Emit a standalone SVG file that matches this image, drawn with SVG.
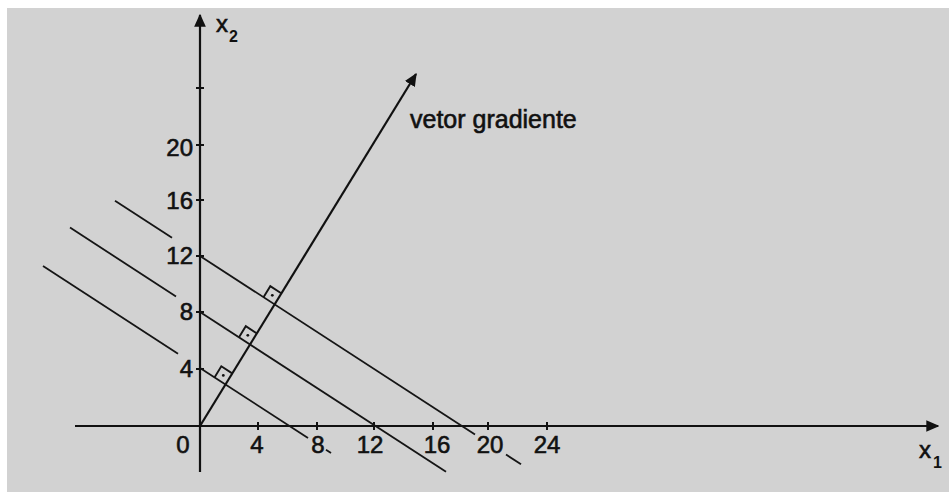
<svg xmlns="http://www.w3.org/2000/svg" width="949" height="492" viewBox="0 0 949 492">
<defs>
<marker id="arrL" viewBox="0 0 10 10" refX="9" refY="5" markerWidth="13" markerHeight="13" markerUnits="userSpaceOnUse" orient="auto">
<path d="M0,0.5 L10,5 L0,9.5 z" fill="#111"/>
</marker>
</defs>
<style>
.ax{stroke:#111;stroke-width:2.2;fill:none}
.lv{stroke:#151515;stroke-width:1.8;fill:none}
.tk{stroke:#111;stroke-width:2;fill:none}
.rt{stroke:#151515;stroke-width:1.9;fill:none}
.n{font-family:"Liberation Sans",Arial,sans-serif;font-size:24px;fill:#111;stroke:#111;stroke-width:0.6}
.l{font-family:"Liberation Sans",Arial,sans-serif;font-size:25px;fill:#111;stroke:#111;stroke-width:0.6}
.s{font-family:"Liberation Sans",Arial,sans-serif;font-size:16px;fill:#111;font-weight:bold}
</style>
<rect x="0" y="0" width="949" height="492" fill="#ffffff"/>
<rect x="7" y="8" width="942" height="484" fill="#d2d2d2"/>
<g id="connectors">
<line id="x1-axis" class="ax" x1="75" y1="426" x2="938" y2="426" marker-end="url(#arrL)"/>
<line id="x2-axis" class="ax" x1="200" y1="472" x2="200" y2="15" marker-end="url(#arrL)"/>
<line id="gradient" class="ax" x1="200" y1="426" x2="416" y2="74" marker-end="url(#arrL)"/>
<g id="ticks">
<line class="tk" x1="258" y1="422" x2="258" y2="430"/>
<line class="tk" x1="317" y1="422" x2="317" y2="430"/>
<line class="tk" x1="374" y1="422" x2="374" y2="430"/>
<line class="tk" x1="433" y1="422" x2="433" y2="430"/>
<line class="tk" x1="488" y1="422" x2="488" y2="430"/>
<line class="tk" x1="547" y1="422" x2="547" y2="430"/>
<line class="tk" x1="196" y1="369" x2="204" y2="369"/>
<line class="tk" x1="196" y1="312" x2="204" y2="312"/>
<line class="tk" x1="196" y1="256" x2="204" y2="256"/>
<line class="tk" x1="196" y1="200" x2="204" y2="200"/>
<line class="tk" x1="196" y1="145" x2="204" y2="145"/>
<line class="tk" x1="196" y1="88" x2="204" y2="88"/>
</g>
<g id="level-12">
<line class="lv" x1="43" y1="266" x2="178" y2="353.7"/>
<line class="lv" x1="200" y1="368" x2="308" y2="438"/>
<line class="lv" x1="326" y1="449.8" x2="331" y2="453"/>
</g>
<g id="level-24">
<line class="lv" x1="70" y1="227.6" x2="176" y2="296.4"/>
<line class="lv" x1="200" y1="312" x2="446" y2="471.7"/>
</g>
<g id="level-36">
<line class="lv" x1="115" y1="200.8" x2="172" y2="237.8"/>
<line class="lv" x1="200" y1="256" x2="475" y2="434.5"/>
<line class="lv" x1="506" y1="454.6" x2="521" y2="464.3"/>
</g>
</g>
<g id="right-angle-1">
<polyline class="rt" points="214.5,377.4 221.3,366.3 232.2,373.4"/>
<circle cx="223.3" cy="375.4" r="1.4" fill="#111"/>
</g>
<g id="right-angle-2">
<polyline class="rt" points="239,337.3 245.8,326.2 256.7,333.3"/>
<circle cx="247.8" cy="335.3" r="1.4" fill="#111"/>
</g>
<g id="right-angle-3">
<polyline class="rt" points="263.5,297.3 270.3,286.2 281.2,293.3"/>
<circle cx="272.3" cy="295.3" r="1.4" fill="#111"/>
</g>
<g id="y-labels" class="n" text-anchor="end">
<text x="193" y="156">20</text>
<text x="193" y="209">16</text>
<text x="193" y="264">12</text>
<text x="193" y="320">8</text>
<text x="193" y="377">4</text>
</g>
<g id="x-labels" class="n" text-anchor="middle">
<text x="183" y="453">0</text>
<text x="257" y="453">4</text>
<text x="318" y="453">8</text>
<text x="370" y="453">12</text>
<text x="437" y="453">16</text>
<text x="490" y="453">20</text>
<text x="547" y="453">24</text>
</g>
<g id="axis-names">
<text class="n" x="216" y="32">x</text>
<text class="s" x="229" y="42">2</text>
<text class="n" x="919" y="458">x</text>
<text class="s" x="933" y="468">1</text>
</g>
<g id="label-gradient">
<text class="l" x="410" y="128">vetor gradiente</text>
</g>
</svg>
